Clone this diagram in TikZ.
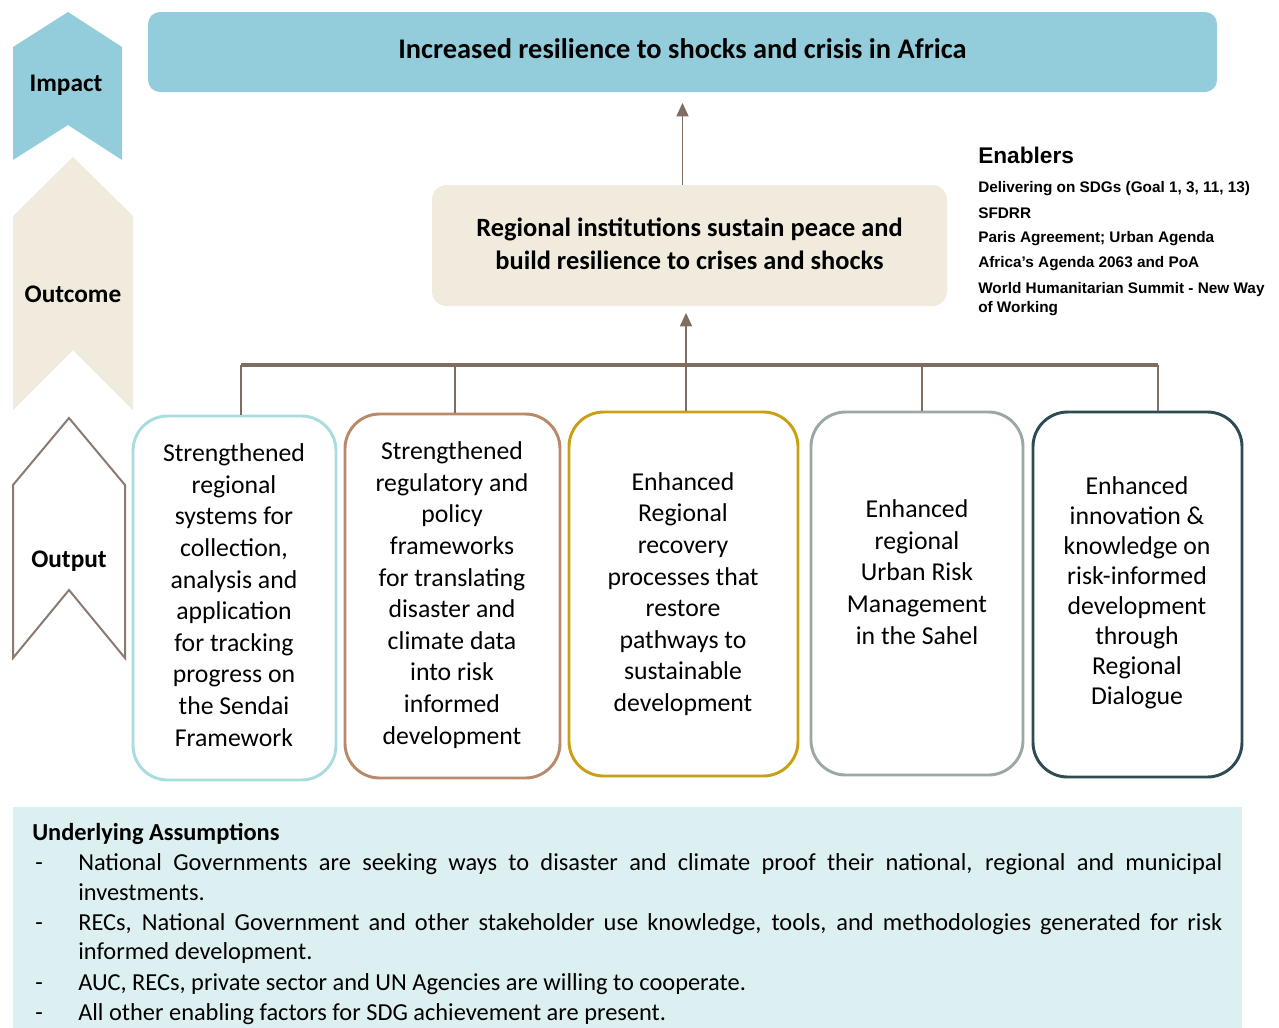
\documentclass[tikz,border=0pt]{standalone}
\usepackage{fontspec}
\setmainfont{Carlito}
\newfontfamily\enablersfont{Liberation Sans}
\usepackage{tikz}
\usetikzlibrary{arrows.meta, positioning, fit, calc}

\definecolor{impactblue}{HTML}{93CDDC}
\definecolor{outcomebeige}{HTML}{F0EBDC}
\definecolor{linkbrown}{HTML}{7F6D62}
\definecolor{outputbrown}{HTML}{8A7A70}
\definecolor{boxcyan}{HTML}{A8DCDE}
\definecolor{boxtan}{HTML}{B8896A}
\definecolor{boxgold}{HTML}{C9A013}
\definecolor{boxgrey}{HTML}{9CA8A4}
\definecolor{boxteal}{HTML}{2D4B53}
\definecolor{assumebg}{HTML}{DCEFF1}

\newcommand{\assumeitem}[1]{\hangindent=34.5pt\hangafter=1\noindent\makebox[34.5pt][l]{\hspace{2.25pt}-}#1\par}

\tikzset{
	levellabel/.style={font=\fontsize{19}{23}\selectfont\bfseries, inner sep=0pt},
	outbox/.style={draw, line width=2.2pt, rounded corners=26pt, inner sep=0pt},
	outtext/.style={align=center, inner sep=0pt, font=\fontsize{19.3}{23.7}\selectfont},
	enabler/.style={anchor=west, inner sep=0pt, align=left, font=\enablersfont\fontsize{11.5}{14.25}\selectfont\bfseries},
	link/.style={draw=linkbrown, line width=1.1pt},
	uparrow/.style={link, -{Triangle[width=9pt,length=10pt]}},
}

\begin{document}
\begin{tikzpicture}[x=0.75pt, y=-0.75pt]
	\useasboundingbox (0,0) rectangle (1279,1028);
	% chevrons on the left
	\fill[impactblue] (13,47) -- (68,12) -- (122,47) -- (122,160) -- (68,125) -- (13,160) -- cycle;
	\fill[outcomebeige] (13,216) -- (73,157) -- (133,216) -- (133,410) -- (73,350) -- (13,410) -- cycle;
	\draw[outputbrown, line width=1.5pt] (13,485) -- (69,418) -- (125,485) -- (125,658) -- (69,590) -- (13,658) -- cycle;
	\node[levellabel] (impact) at (66,85) {Impact};
	\node[levellabel] (outcome) at (73,294) {Outcome};
	\node[levellabel] (output) at (69,561) {Output};

	\node[fill=impactblue, rounded corners=9pt, inner sep=0pt, fit={(148,12) (1217,92)}] (imp) {};
	\node[font=\fontsize{21.3}{25}\selectfont\bfseries, inner sep=0pt] (imptext) at ([yshift=2.5pt]imp.center) {Increased resilience to shocks and crisis in Africa};
	\node[fill=outcomebeige, rounded corners=11pt, inner sep=0pt, fit={(432,185) (947,306)}] (oc) {};
	\node[align=center, inner sep=0pt, font=\fontsize{19.8}{24.75}\selectfont\bfseries] (octext) at ([yshift=1pt]oc.center) {Regional institutions sustain peace and\\build resilience to crises and shocks};

	% enablers
	\node[enabler, font=\enablersfont\fontsize{17}{20}\selectfont\bfseries] (enh) at (978,155) {Enablers};
	\node[enabler] (en1) at (978,189) {Delivering on SDGs (Goal 1, 3, 11, 13)};
	\node[enabler] (en2) at (978,213) {SFDRR};
	\node[enabler] (en3) at (978,239) {Paris Agreement; Urban Agenda};
	\node[enabler] (en4) at (978,264) {Africa’s Agenda 2063 and PoA};
	\node[enabler] (en5) at (978,299) {World Humanitarian Summit - New Way\\of Working};

	% outputs
	\node[outbox, draw=boxcyan, fit={(133,416) (336,780)}] (o1) {};
	\node[outbox, draw=boxtan, fit={(345,414) (560,778)}] (o2) {};
	\node[outbox, draw=boxgold, fit={(569,412) (798,776)}] (o3) {};
	\node[outbox, draw=boxgrey, fit={(811,412) (1023,775)}] (o4) {};
	\node[outbox, draw=boxteal, fit={(1033,412) (1242,777)}] (o5) {};
	\node[outtext] (t1) at (234,595) {Strengthened\\regional\\systems for\\collection,\\analysis and\\application\\for tracking\\progress on\\the Sendai\\Framework};
	\node[outtext] (t2) at (452,595) {Strengthened\\regulatory and\\policy\\frameworks\\for translating\\disaster and\\climate data\\into risk\\informed\\development};
	\node[outtext] (t3) at (683,594) {Enhanced\\Regional\\recovery\\processes that\\restore\\pathways to\\sustainable\\development};
	\node[outtext] (t4) at (917,572) {Enhanced\\regional\\Urban Risk\\Management\\in the Sahel};
	\node[outtext, font=\fontsize{19.3}{22.5}\selectfont] (t5) at (1137,593) {Enhanced\\innovation \&\\knowledge on\\risk-informed\\development\\through\\Regional\\Dialogue};

	% links
	\coordinate (b1) at (241,365);
	\coordinate (b2) at (455,365);
	\coordinate (b3) at (686,365);
	\coordinate (b4) at (922,365);
	\coordinate (b5) at (1158,365);
	\draw[link, line width=3pt] (b1) -- (b5);
	\draw[link] (b1) -- (b1 |- o1.north);
	\draw[link] (b2) -- (b2 |- o2.north);
	\draw[link] (b3) -- (b3 |- o3.north);
	\draw[link] (b4) -- (b4 |- o4.north);
	\draw[link] (b5) -- (b5 |- o5.north);
	\draw[uparrow, shorten >=5pt] (b3) -- (b3 |- oc.south);
	\draw[uparrow, shorten >=8pt] (imp.south |- oc.north) -- (imp.south);

	% assumptions
	\fill[assumebg] (13,807) rectangle (1242,1028);
	\node[anchor=north west, inner sep=0pt, text width=892.5pt, align=justify, font=\fontsize{18.3}{21.9}\selectfont] (assume) at (32,823) {%
		\setlength{\parskip}{1pt}%
		\textbf{Underlying Assumptions}\par
		\assumeitem{National Governments are seeking ways to disaster and climate proof their national, regional and municipal\linebreak investments.}
		\assumeitem{RECs, National Government and other stakeholder use knowledge, tools, and methodologies generated for risk\linebreak informed development.}
		\assumeitem{AUC, RECs, private sector and UN Agencies are willing to cooperate.}
		\assumeitem{All other enabling factors for SDG achievement are present.}
	};
\end{tikzpicture}
\end{document}
